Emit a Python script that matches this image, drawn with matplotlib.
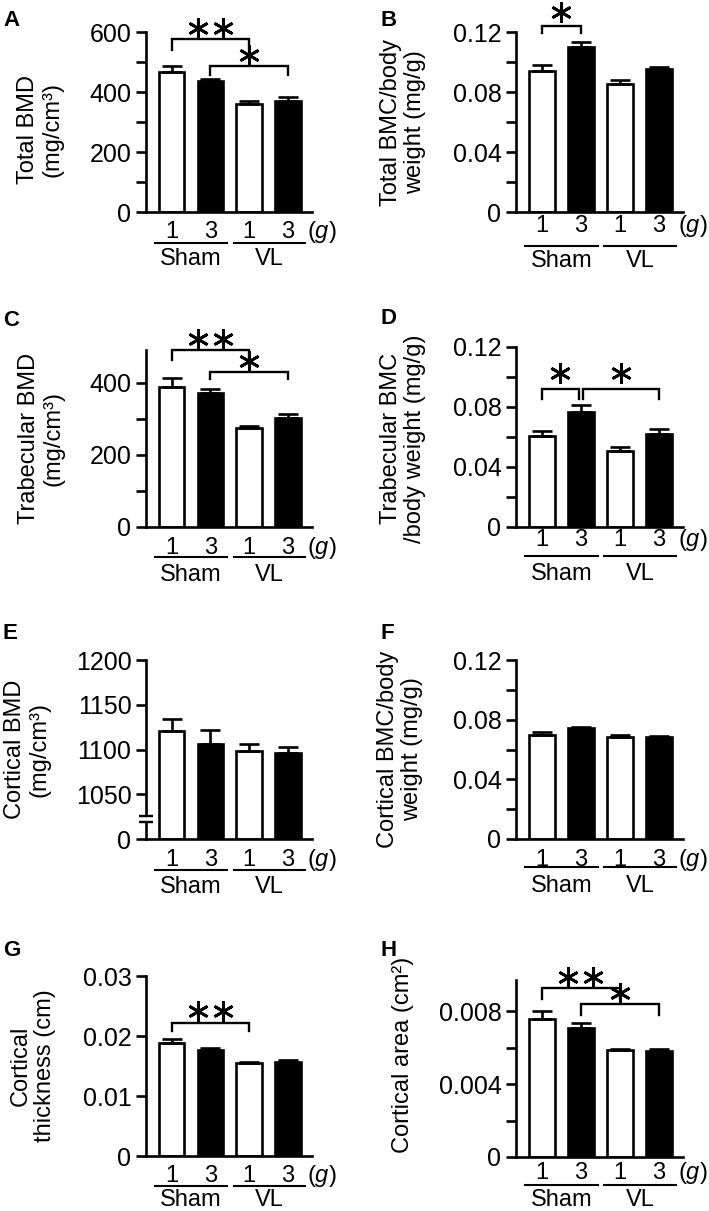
import numpy as np
import matplotlib
matplotlib.use("Agg")
import matplotlib.pyplot as plt
from matplotlib.transforms import ScaledTranslation, blended_transform_factory

plt.rcParams["font.family"] = ["Liberation Sans", "DejaVu Sans"]
plt.rcParams["mathtext.fontset"] = "custom"
plt.rcParams["mathtext.rm"] = "Liberation Sans"
plt.rcParams["mathtext.it"] = "Liberation Sans:italic"

# data: Sham 1g, Sham 3g, VL 1g, VL 3g (mean, SEM)
dose_labels = ["1", "3", "1", "3"]
group_labels = ["Sham", "VL"]

total_bmd = [468, 437, 360, 371]
total_bmd_err = [17, 6, 11, 11]
total_bmc = [0.0937, 0.1097, 0.0852, 0.0955]
total_bmc_err = [0.0040, 0.0038, 0.0029, 0.0015]
trab_bmd = [388, 372, 273, 302]
trab_bmd_err = [24, 11, 7, 12]
trab_bmc = [0.0607, 0.0769, 0.0504, 0.0618]
trab_bmc_err = [0.0031, 0.0042, 0.0029, 0.0033]
cort_bmd = [1120.7, 1106.0, 1098.0, 1095.6]
cort_bmd_err = [13.3, 15.5, 8.7, 7.0]
cort_bmc = [0.0696, 0.0747, 0.0682, 0.0682]
cort_bmc_err = [0.0018, 0.0007, 0.0012, 0.0010]
cort_thick = [0.01878, 0.01767, 0.01544, 0.01572]
cort_thick_err = [0.0008, 0.0004, 0.0002, 0.0003]
cort_area = [0.00754, 0.00708, 0.00586, 0.00582]
cort_area_err = [0.00046, 0.00026, 0.00005, 0.00011]

DPI = 100
fig = plt.figure(figsize=(7.09, 12.11), dpi=DPI)
W, H = 709, 1211


def px(dx, dy):
    return ScaledTranslation(dx / DPI, dy / DPI, fig.dpi_scale_trans)


def make_ax(left, top, right, zero):
    return fig.add_axes([left / W, 1 - zero / H, (right - left) / W, (zero - top) / H])


# (letter, axes px box, values, errors, ylim, ticks, ticklabels, ylabel, label dist, label y,
#  bottom offsets (digits, line, group), brackets)
panels = [
    ("A", (146, 32, 312, 212), total_bmd, total_bmd_err, (0, 600),
     [0, 100, 200, 300, 400, 500, 600], ["0", "", "200", "", "400", "", "600"],
     "Total BMD\n(mg/cm³)", 106, 0.46, (26, 31, 53),
     [(0, 2, 576, 35, 2, 11), (1, 3, 488, 31, 1, 11)]),
    ("B", (516, 32, 683, 212), total_bmc, total_bmc_err, (0, 0.12),
     [0, 0.02, 0.04, 0.06, 0.08, 0.10, 0.12], ["0", "", "0.04", "", "0.08", "", "0.12"],
     "Total BMC/body\nweight (mg/g)", 113, 0.5, (20, 34, 55),
     [(0, 1, 0.1238, 0.0045, 1, 14)]),
    ("C", (146, 350, 312, 527), trab_bmd, trab_bmd_err, (0, 490),
     [0, 100, 200, 300, 400], ["0", "", "200", "", "400"],
     "Trabecular BMD\n(mg/cm³)", 105, 0.5, (27, 30, 54),
     [(0, 2, 489, 27, 2, 11), (1, 3, 429, 20, 1, 11)]),
    ("D", (516, 347, 683, 527), trab_bmc, trab_bmc_err, (0, 0.12),
     [0, 0.02, 0.04, 0.06, 0.08, 0.10, 0.12], ["0", "", "0.04", "", "0.08", "", "0.12"],
     "Trabecular BMC\n/body weight (mg/g)", 113, 0.49, (19, 29, 53),
     [(0, 0.96, 0.0922, 0.0066, 1, 16), (1.06, 3, 0.0922, 0.0066, 1, 16)]),
    ("E", (146, 660, 312, 839), cort_bmd, cort_bmd_err, (1000, 1200),
     [1000, 1050, 1100, 1150, 1200], ["0", "1050", "1100", "1150", "1200"],
     "Cortical BMD\n(mg/cm³)", 119, 0.5, (27, 31, 54), []),
    ("F", (516, 660, 683, 839), cort_bmc, cort_bmc_err, (0, 0.12),
     [0, 0.02, 0.04, 0.06, 0.08, 0.10, 0.12], ["0", "", "0.04", "", "0.08", "", "0.12"],
     "Cortical BMC/body\nweight (mg/g)", 116, 0.5, (27, 28, 53), []),
    ("G", (146, 976, 312, 1156), cort_thick, cort_thick_err, (0, 0.03),
     [0, 0.01, 0.02, 0.03], ["0", "0.01", "0.02", "0.03"],
     "Cortical\nthickness (cm)", 113, 0.5, (26, 30, 50),
     [(0, 2, 0.0222, 0.0013, 2, 12)]),
    ("H", (516, 980, 683, 1157), cort_area, cort_area_err, (0, 0.0097),
     [0, 0.002, 0.004, 0.006, 0.008], ["0", "", "0.004", "", "0.008"],
     "Cortical area (cm²)", 113, 0.575, (22, 28, 49),
     [(0, 2, 0.00924, 0.00058, 2, 11.5), (1, 3, 0.00837, 0.00059, 1, 11)]),
]

letter_pos = {"A": (3, 10), "B": (380, 10), "C": (3, 310), "D": (380, 308),
              "E": (3, 623), "F": (380, 623), "G": (3, 940), "H": (380, 940)}

x = np.arange(4)
fills = ["white", "black", "white", "black"]
LW = 1.9

for letter, box, vals, errs, ylim, ticks, tlabels, ylabel, ldist, ly, boff, brackets in panels:
    ax = make_ax(*box)
    base = ylim[0]
    heights = [v - base for v in vals]
    ax.bar(x, heights, bottom=base, width=0.66, color=fills, edgecolor="black",
           linewidth=LW, zorder=2)
    ax.errorbar(x, vals, yerr=[np.zeros(4), errs], fmt="none", ecolor="black",
                elinewidth=LW, capsize=7, capthick=LW, zorder=3)
    ax.set_xlim(-0.66, 3.62)
    ax.set_ylim(*ylim)
    ax.set_yticks(ticks)
    ax.set_yticklabels(tlabels)
    ax.set_xticks([])
    for s in ["top", "right"]:
        ax.spines[s].set_visible(False)
    for s in ["left", "bottom"]:
        ax.spines[s].set_linewidth(LW)
        ax.spines[s].set_capstyle("projecting")
    ax.tick_params(axis="y", length=7.5, width=LW, labelsize=18, pad=3)

    axw = box[2] - box[0]
    ax.text(-ldist / axw, ly, ylabel, transform=ax.transAxes, rotation=90,
            ha="center", va="center", fontsize=17, multialignment="center",
            linespacing=1.15)

    # significance brackets
    for i, j, yb, drop, nstar, soff in brackets:
        ax.plot([i, i, j, j], [yb - drop, yb, yb, yb - drop], color="black",
                lw=1.7, clip_on=False, zorder=4, solid_joinstyle="miter")
        mid = (i + j) / 2
        offs = [0] if nstar == 1 else [-12.5, 12.5]
        for o in offs:
            ax.plot([mid], [yb], marker=(6, 2, 0), markersize=15, mew=2.0,
                    color="black", clip_on=False,
                    transform=ax.transData + px(o, soff))

    # bottom labels: dose, group lines, group names
    d_off, l_off, g_off = boff
    bt = blended_transform_factory(ax.transData, ax.transAxes)
    for xi, lab in zip(x, dose_labels):
        ax.text(xi, 0, lab, transform=bt + px(0, -d_off), ha="center", va="baseline",
                fontsize=17)
    ax.text(3.88, 0, "($g$)", transform=bt + px(0, -d_off), ha="center", va="baseline",
            fontsize=17)
    for (x0, x1), g in zip([(-0.42, 1.43), (1.6, 3.45)], group_labels):
        ax.plot([x0, x1], [0, 0], color="black", lw=1.5, clip_on=False,
                transform=bt + px(0, -l_off))
        ax.text((x0 + x1) / 2, 0, g, transform=bt + px(0, -g_off), ha="center",
                va="baseline", fontsize=17)

    # axis break for E
    if letter == "E":
        yb1, yb2 = 1018.5, 1025.9
        ax.plot([-0.66, -0.66], [yb1 + 1, yb2 - 1], color="white", lw=4,
                clip_on=False, zorder=5, solid_capstyle="butt")
        for yy in (yb1, yb2):
            ax.plot([-0.66, -0.66], [yy, yy], marker="_", markersize=10, mew=1.6,
                    color="black", clip_on=False, zorder=6)

    lx, lyp = letter_pos[letter]
    fig.text(lx / W, 1 - lyp / H, letter, fontsize=16, fontweight="bold",
             ha="left", va="top")

fig.savefig("out.png", dpi=DPI)
